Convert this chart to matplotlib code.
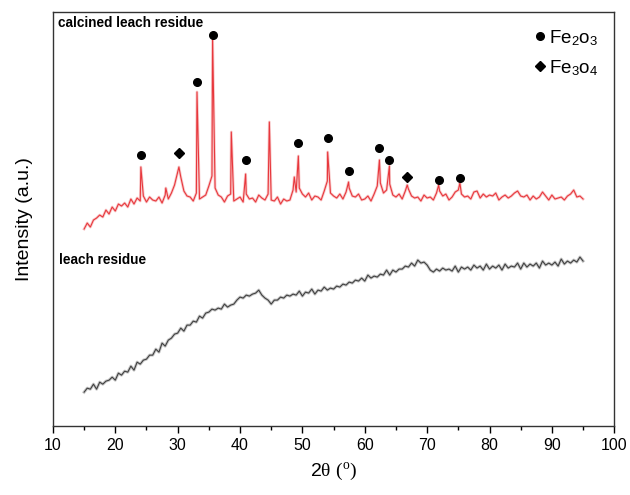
import numpy as np
import matplotlib
matplotlib.use("Agg")
import matplotlib.pyplot as plt
from matplotlib.lines import Line2D
from matplotlib.ticker import MultipleLocator

plt.rcParams['font.family'] = ['Liberation Sans', 'DejaVu Sans']
plt.rcParams['mathtext.fontset'] = 'custom'
plt.rcParams['mathtext.rm'] = 'Liberation Serif'
plt.rcParams['mathtext.it'] = 'Liberation Serif:italic'
plt.rcParams['mathtext.sf'] = 'Liberation Sans'

# sampling grid of the scans (2 theta, degrees)
two_theta = np.arange(15.0, 95.01, 0.5)

# calcined leach residue: background
calcined_bg = [
    197, 203, 199, 206, 208, 211, 209, 216, 212, 219,   # 15.0 - 19.5
    215, 222, 220, 223, 219, 227, 222, 228, 225, 230,   # 20.0 - 24.5
    224, 229, 226, 225, 229, 223, 231, 227, 233, 241,   # 25.0 - 29.5
    254, 249, 235, 230, 229, 225, 233, 227, 229, 231,   # 30.0 - 34.5
    240, 250, 238, 231, 229, 224, 230, 232, 225, 227,   # 35.0 - 39.5
    229, 224, 232, 227, 228, 224, 231, 228, 226, 232,   # 40.0 - 44.5
    226, 225, 229, 222, 227, 225, 226, 236, 234, 238,   # 45.0 - 49.5
    232, 229, 233, 226, 230, 229, 226, 235, 245, 233,   # 50.0 - 54.5
    230, 228, 232, 227, 234, 238, 230, 229, 232, 226,   # 55.0 - 59.5
    227, 230, 225, 232, 240, 243, 233, 236, 242, 231,   # 60.0 - 64.5
    229, 232, 227, 235, 237, 230, 228, 229, 225, 231,   # 65.0 - 69.5
    228, 229, 226, 233, 235, 230, 232, 226, 229, 234,   # 70.0 - 74.5
    236, 232, 229, 230, 227, 234, 235, 228, 232, 229,   # 75.0 - 79.5
    231, 230, 233, 226, 229, 231, 228, 230, 233, 235,   # 80.0 - 84.5
    230, 229, 231, 226, 230, 227, 229, 234, 230, 226,   # 85.0 - 89.5
    231, 227, 228, 229, 226, 230, 232, 236, 229, 230,   # 90.0 - 94.5
    227,                                                # 95.0
]

# sharp reflections of the calcined sample
peak_pos = [24.1, 28.1, 30.2, 33.1, 35.6, 38.6, 40.9, 44.7, 48.7, 49.35,
            54.05, 57.4, 62.35, 63.95, 66.8, 71.85, 75.25]
peak_int = [259, 238, 259, 334, 388, 294, 252, 304, 249, 270,
            274, 244, 266, 260, 241, 241, 243]

# leach residue (amorphous)
leach = [
    34, 38, 37, 42, 37, 44, 42, 45, 46, 49,             # 15.0 - 19.5
    46, 53, 51, 55, 54, 60, 56, 64, 62, 66,             # 20.0 - 24.5
    67, 71, 71, 77, 74, 83, 80, 86, 88, 92,             # 25.0 - 29.5
    93, 98, 95, 101, 101, 105, 104, 110, 108, 113,      # 30.0 - 34.5
    114, 117, 116, 118, 117, 122, 119, 121, 122, 126,   # 35.0 - 39.5
    129, 128, 131, 130, 132, 133, 136, 131, 128, 126,   # 40.0 - 44.5
    122, 126, 126, 129, 128, 131, 130, 132, 131, 135,   # 45.0 - 49.5
    130, 134, 133, 137, 132, 136, 135, 139, 136, 138,   # 50.0 - 54.5
    137, 140, 139, 142, 141, 144, 143, 146, 145, 148,   # 55.0 - 59.5
    145, 151, 148, 150, 149, 152, 151, 156, 151, 156,   # 60.0 - 64.5
    154, 157, 157, 160, 159, 163, 160, 166, 163, 164,   # 65.0 - 69.5
    161, 156, 154, 157, 155, 158, 156, 157, 155, 160,   # 70.0 - 74.5
    154, 159, 157, 159, 156, 161, 158, 160, 156, 162,   # 75.0 - 79.5
    157, 160, 158, 161, 156, 162, 158, 160, 159, 163,   # 80.0 - 84.5
    157, 163, 159, 162, 160, 163, 158, 165, 161, 163,   # 85.0 - 89.5
    161, 164, 160, 167, 162, 165, 163, 166, 164, 169,   # 90.0 - 94.5
    165,                                                # 95.0
]

# phase markers
fe2o3_x = [24.1, 33.1, 35.6, 40.9, 49.35, 54.05, 57.4, 62.35, 63.95, 71.85, 75.25]
fe2o3_y = [271, 344, 391, 266, 283, 288, 255, 278, 266, 246, 248]
fe3o4_x = [30.2, 66.8]
fe3o4_y = [273, 249]

# merge grid and peaks for the calcined scan
cx = np.concatenate([two_theta, peak_pos])
cy = np.concatenate([calcined_bg, peak_int])
order = np.argsort(cx, kind='stable')
cx, cy = cx[order], cy[order]

fig = plt.figure(figsize=(6.3, 4.95), dpi=100)
ax = fig.add_axes([0.084, 0.139, 0.891, 0.837])

# faint halo + line, like the noisy scan band
ax.plot(cx, cy, color='#f08a8c', lw=2.0, alpha=0.45)
ax.plot(cx, cy, color='#e8383d', lw=0.8)
ax.plot(two_theta, leach, color='#888888', lw=2.2, alpha=0.45)
ax.plot(two_theta, leach, color='#404040', lw=0.8)

ax.plot(fe2o3_x, fe2o3_y, 'o', color='black', ms=5.5, ls='')
ax.plot(fe3o4_x, fe3o4_y, 'D', color='black', ms=5.5, ls='')

ax.text(0.009, 0.973, 'calcined leach residue', transform=ax.transAxes,
        fontsize=9.8, fontweight='bold', va='center', ha='left')
ax.text(0.011, 0.401, 'leach residue', transform=ax.transAxes,
        fontsize=9.8, fontweight='bold', va='center', ha='left')

handles = [Line2D([], [], marker='o', ls='', color='black', ms=5.5),
           Line2D([], [], marker='D', ls='', color='black', ms=5.5)]
ax.legend(handles, [r'Fe$_\mathsf{2}$o$_\mathsf{3}$', r'Fe$_\mathsf{3}$o$_\mathsf{4}$'],
          loc='upper right', frameon=False, fontsize=13.5, handlelength=0.6,
          handletextpad=0.2, labelspacing=0.55, borderaxespad=0.45)

ax.set_xlim(10, 100)
ax.set_ylim(0, 414)
ax.xaxis.set_major_locator(MultipleLocator(10))
ax.xaxis.set_minor_locator(MultipleLocator(5))
ax.tick_params(axis='x', which='major', direction='out', length=5, width=1, labelsize=11.5)
ax.tick_params(axis='x', which='minor', direction='out', length=3, width=1)
ax.set_yticks([])
for s in ax.spines.values():
    s.set_color('#333333')
    s.set_linewidth(1.0)

ax.set_xlabel(r'2$\mathrm{\theta}$ $\mathrm{(^{o})}$', fontsize=14, labelpad=6)
ax.set_ylabel('Intensity (a.u.)', fontsize=14, labelpad=14)

fig.savefig('out.png', dpi=100)
